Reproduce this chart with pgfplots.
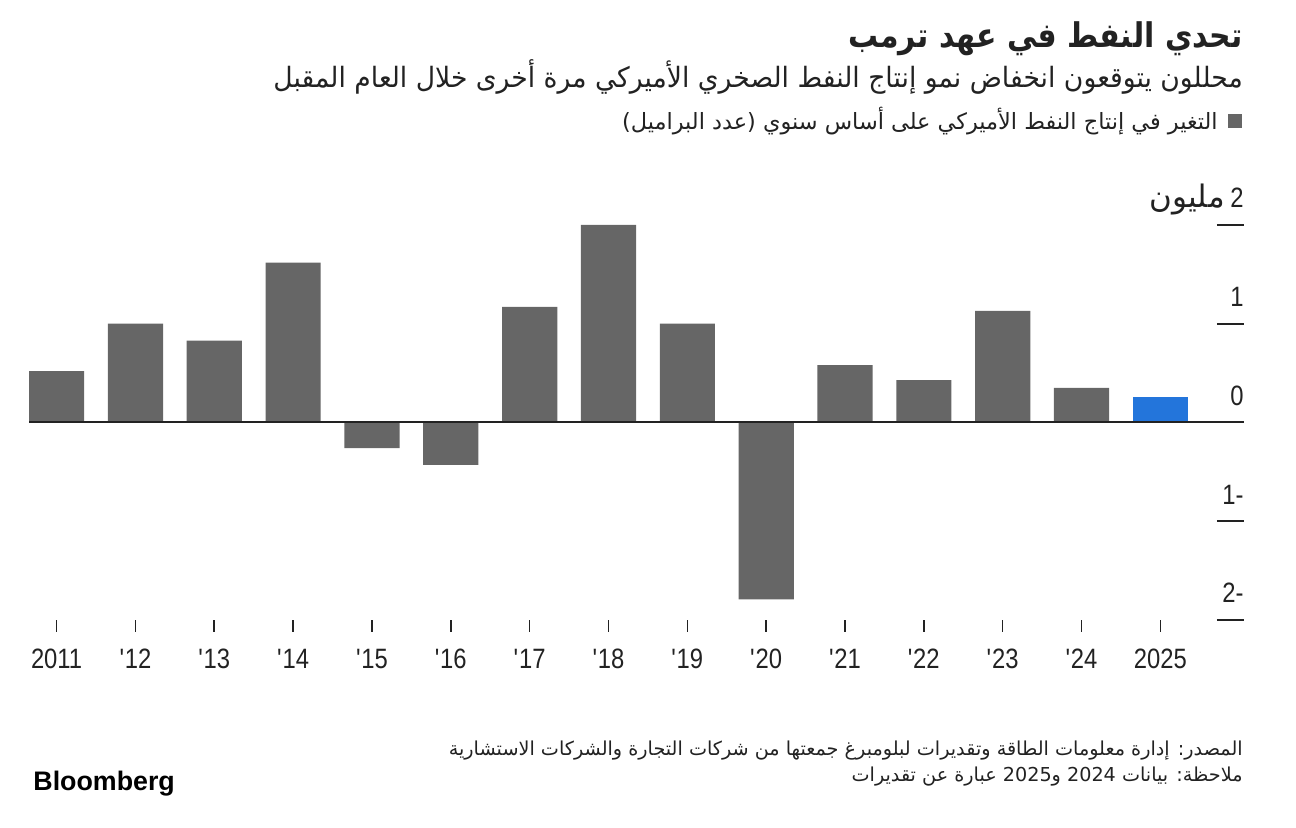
\documentclass[border=0pt]{standalone}
\usepackage{pgfplots}
\pgfplotsset{compat=1.18}
\usepackage{fontspec}
\setmainfont{Liberation Sans}
\newfontfamily\arabicfont[Script=Arabic]{DejaVu Sans}
\newfontfamily\arabictitle[Script=Arabic,FakeStretch=0.88]{DejaVu Sans}
\newfontfamily\arabicsub[Script=Arabic,FakeStretch=0.95]{DejaVu Sans}
\newfontfamily\numfont[FakeStretch=0.85]{Liberation Sans}
\TeXXeTstate=1
\definecolor{barg}{HTML}{666666}
\definecolor{barb}{HTML}{2375DB}
\definecolor{ink}{HTML}{222222}
\begin{document}
\begin{tikzpicture}[x=0.5pt,y=0.5pt]
\path[use as bounding box] (0,0) rectangle (1296,828);
% titles
\node[anchor=base east, inner sep=0pt, text=ink] at (1243,780) {\arabictitle\bfseries\fontsize{17}{17}\selectfont\beginR تحدي النفط في عهد ترمب\endR};
\node[anchor=base east, inner sep=0pt, text=ink] at (1243,740) {\arabicsub\fontsize{14}{14}\selectfont\beginR محللون يتوقعون انخفاض نمو إنتاج النفط الصخري الأميركي مرة أخرى خلال العام المقبل\endR};
\fill[barg] (1228,700) rectangle (1242,714);
\node[anchor=base east, inner sep=0pt, text=ink] at (1218,698) {\arabicfont\fontsize{11.2}{11.2}\selectfont\beginR التغير في إنتاج النفط الأميركي على أساس سنوي (عدد البراميل)\endR};
\begin{axis}[at={(14.5pt,104pt)}, anchor=south west, scale only axis,
  width=607.5pt, height=197.5pt,
  xmin=2010.65, xmax=2026.06, ymin=-2, ymax=2,
  axis line style={draw=none}, ytick=\empty,
  xtick={2011,2012,...,2025},
  xticklabels={2011,\textquotesingle12,\textquotesingle13,\textquotesingle14,\textquotesingle15,\textquotesingle16,\textquotesingle17,\textquotesingle18,\textquotesingle19,\textquotesingle20,\textquotesingle21,\textquotesingle22,\textquotesingle23,\textquotesingle24,2025},
  xtick pos=bottom, tick align=outside, major tick length=6pt,
  tick style={ink, line width=0.8pt},
  xticklabel style={font=\numfont\fontsize{14}{14}\selectfont, anchor=base, yshift=-18.5pt, text=ink},
  clip=false]
\addplot[ybar, bar width=0.7, bar shift=0pt, fill=barg, draw=none] coordinates {
(2011,0.52) (2012,1.00) (2013,0.83) (2014,1.62) (2015,-0.26) (2016,-0.43) (2017,1.17)
(2018,2.00) (2019,1.00) (2020,-1.79) (2021,0.58) (2022,0.43) (2023,1.13) (2024,0.35)};
\addplot[ybar, bar width=0.7, bar shift=0pt, fill=barb, draw=none] coordinates {(2025,0.26)};
\draw[ink, line width=1pt] (axis cs:2010.65,0) -- (axis cs:2026.06,0);
\draw[ink, line width=1pt] (axis cs:2025.717,2) -- (axis cs:2026.06,2);
\draw[ink, line width=1pt] (axis cs:2025.717,1) -- (axis cs:2026.06,1);
\draw[ink, line width=1pt] (axis cs:2025.717,-1) -- (axis cs:2026.06,-1);
\draw[ink, line width=1pt] (axis cs:2025.717,-2) -- (axis cs:2026.06,-2);
\node[anchor=base east, inner sep=0pt, yshift=8.5pt, text=ink, font=\numfont\fontsize{14}{14}\selectfont] at (axis cs:2026.06,1) {1};
\node[anchor=base east, inner sep=0pt, yshift=8.5pt, text=ink, font=\numfont\fontsize{14}{14}\selectfont] at (axis cs:2026.06,0) {0};
\node[anchor=base east, inner sep=0pt, yshift=8.5pt, text=ink, font=\numfont\fontsize{14}{14}\selectfont] at (axis cs:2026.06,-1) {1-};
\node[anchor=base east, inner sep=0pt, yshift=8.5pt, text=ink, font=\numfont\fontsize{14}{14}\selectfont] at (axis cs:2026.06,-2) {2-};
\node[anchor=base east, inner sep=0pt, yshift=8.5pt, text=ink] at (axis cs:2026.06,2) {{\arabicfont\fontsize{15.5}{15.5}\selectfont\beginR مليون\endR}\ {\numfont\fontsize{14}{14}\selectfont 2}};
\end{axis}
% source
\node[anchor=base east, inner sep=0pt, text=ink] at (1243,72) {\arabicfont\fontsize{9.6}{9.6}\selectfont\beginR المصدر: إدارة معلومات الطاقة وتقديرات لبلومبرغ جمعتها من شركات التجارة والشركات الاستشارية\endR};
\node[anchor=base east, inner sep=0pt, text=ink] at (1243,46) {\arabicfont\fontsize{9.6}{9.6}\selectfont\beginR ملاحظة: بيانات 2024 و2025 عبارة عن تقديرات\endR};
\node[anchor=base west, inner sep=0pt, text=black] at (33,37) {\fontsize{13.4}{13.4}\selectfont\bfseries Bloomberg};
\end{tikzpicture}
\end{document}
